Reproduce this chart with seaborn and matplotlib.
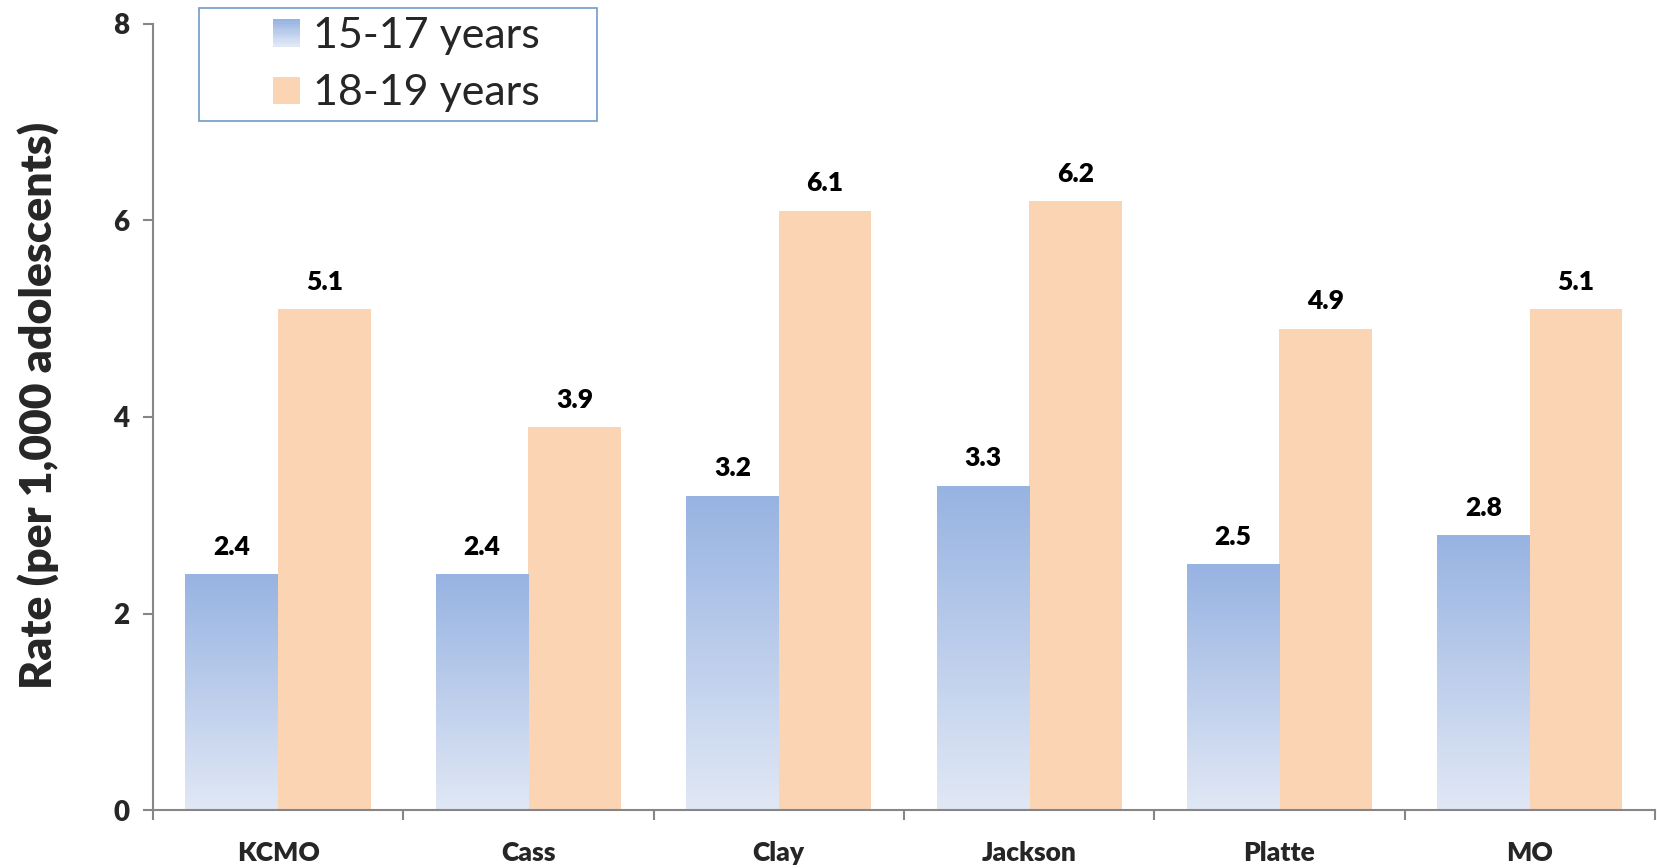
import numpy as np
import pandas as pd
import matplotlib
matplotlib.use("Agg")
import matplotlib.pyplot as plt
from matplotlib.colors import LinearSegmentedColormap
from matplotlib.patches import Rectangle
from matplotlib.legend_handler import HandlerBase
import seaborn as sns

# Birth rates per 1,000 adolescents by area and age group
areas = ["KCMO", "Cass", "Clay", "Jackson", "Platte", "MO"]
age_groups = ["15-17 years", "18-19 years"]
rate_15_17 = [2.4, 2.4, 3.2, 3.3, 2.5, 2.8]
rate_18_19 = [5.1, 3.9, 6.1, 6.2, 4.9, 5.1]

df = pd.DataFrame({
    "area": areas * 2,
    "age": [age_groups[0]] * len(areas) + [age_groups[1]] * len(areas),
    "rate": rate_15_17 + rate_18_19,
})

BLUE_TOP = "#97B3E2"
BLUE_BOT = "#E1E8F5"
ORANGE = "#FBD4B4"
AXIS_GREY = "#868686"
blue_grad = LinearSegmentedColormap.from_list("blue_grad", [BLUE_BOT, BLUE_TOP])

sns.set_theme(style="white")
plt.rcParams["font.family"] = ["Lato", "DejaVu Sans"]
BOLD = "heavy"

fig = plt.figure(figsize=(16.57, 8.68), dpi=100)
ax = fig.add_axes([0.0923, 0.0668, 0.9065, 0.9056])

sns.barplot(data=df, x="area", y="rate", hue="age", order=areas,
            hue_order=age_groups, palette=[BLUE_TOP, ORANGE],
            width=0.74, gap=0, saturation=1, linewidth=0, ax=ax, legend=False)

# Vertical gradient fill for the younger age group
grad = np.linspace(0, 1, 256).reshape(-1, 1)
for bar in ax.containers[0]:
    x0, y0 = bar.get_x(), bar.get_y()
    w, h = bar.get_width(), bar.get_height()
    bar.set_facecolor("none")
    im = ax.imshow(grad, cmap=blue_grad, origin="lower", aspect="auto",
                   extent=(x0, x0 + w, y0, y0 + h), zorder=bar.get_zorder())
    im.set_clip_path(bar)
ax.set_xlim(-0.5, len(areas) - 0.5)
ax.set_ylim(0, 8)
ax.set_aspect("auto")

for cont in ax.containers:
    ax.bar_label(cont, fmt="%.1f", padding=11, fontsize=19,
                 fontweight=BOLD, color="black")

# Axes styling
for side in ("top", "right"):
    ax.spines[side].set_visible(False)
for side in ("left", "bottom"):
    ax.spines[side].set_color(AXIS_GREY)
    ax.spines[side].set_linewidth(1.5)

ax.set_yticks([0, 2, 4, 6, 8])
ax.tick_params(axis="y", which="major", direction="out", length=7,
               width=1.5, color=AXIS_GREY, labelsize=20, pad=10, left=True)
ax.set_xticks(range(len(areas)))
ax.set_xticklabels(areas)
ax.tick_params(axis="x", which="major", length=0, labelsize=19, pad=22)
ax.set_xticks(np.arange(-0.5, len(areas)), minor=True)
ax.tick_params(axis="x", which="minor", direction="out", length=7,
               width=1.5, color=AXIS_GREY, bottom=True)
for lbl in ax.get_xticklabels() + ax.get_yticklabels():
    lbl.set_fontweight(BOLD)

ax.set_xlabel("")
ax.set_ylabel("Rate (per 1,000 adolescents)", fontsize=32, fontweight=BOLD)
ax.yaxis.set_label_coords(-0.0626, 0.5146)
ax.grid(False)

SWATCH = 0.9  # legend swatch side relative to the handle box height


class GradientHandler(HandlerBase):
    def create_artists(self, legend, orig_handle, xdescent, ydescent,
                       width, height, fontsize, trans):
        artists = []
        n = 12
        side = height * SWATCH
        x0 = xdescent + width - side
        y0 = -ydescent - (side - height) / 2
        for i in range(n):
            c = blue_grad(1 - i / (n - 1))
            r = Rectangle((x0, y0 + side - (i + 1) * side / n), side,
                          side / n + 0.3, facecolor=c, edgecolor="none",
                          transform=trans)
            artists.append(r)
        return artists


class SquareHandler(HandlerBase):
    def create_artists(self, legend, orig_handle, xdescent, ydescent,
                       width, height, fontsize, trans):
        side = height * SWATCH
        x0 = xdescent + width - side
        y0 = -ydescent - (side - height) / 2
        return [Rectangle((x0, y0), side, side, facecolor=ORANGE,
                          edgecolor="none", transform=trans)]


h_blue = Rectangle((0, 0), 1, 1)
h_orange = Rectangle((0, 0), 1, 1, facecolor=ORANGE)
leg = ax.legend([h_blue, h_orange], age_groups,
                handler_map={h_blue: GradientHandler(),
                             h_orange: SquareHandler()},
                loc="upper left", bbox_to_anchor=(0.0306, 0.5, 0.265, 0.5197),
                mode="expand",
                fontsize=31, frameon=True, fancybox=False,
                edgecolor="#4F81BD", handlelength=2.14, handletextpad=0.3,
                borderpad=0.2, labelspacing=0.45, borderaxespad=0)
leg.get_frame().set_linewidth(1.2)

fig.savefig("out.png", dpi=100, facecolor="white")
